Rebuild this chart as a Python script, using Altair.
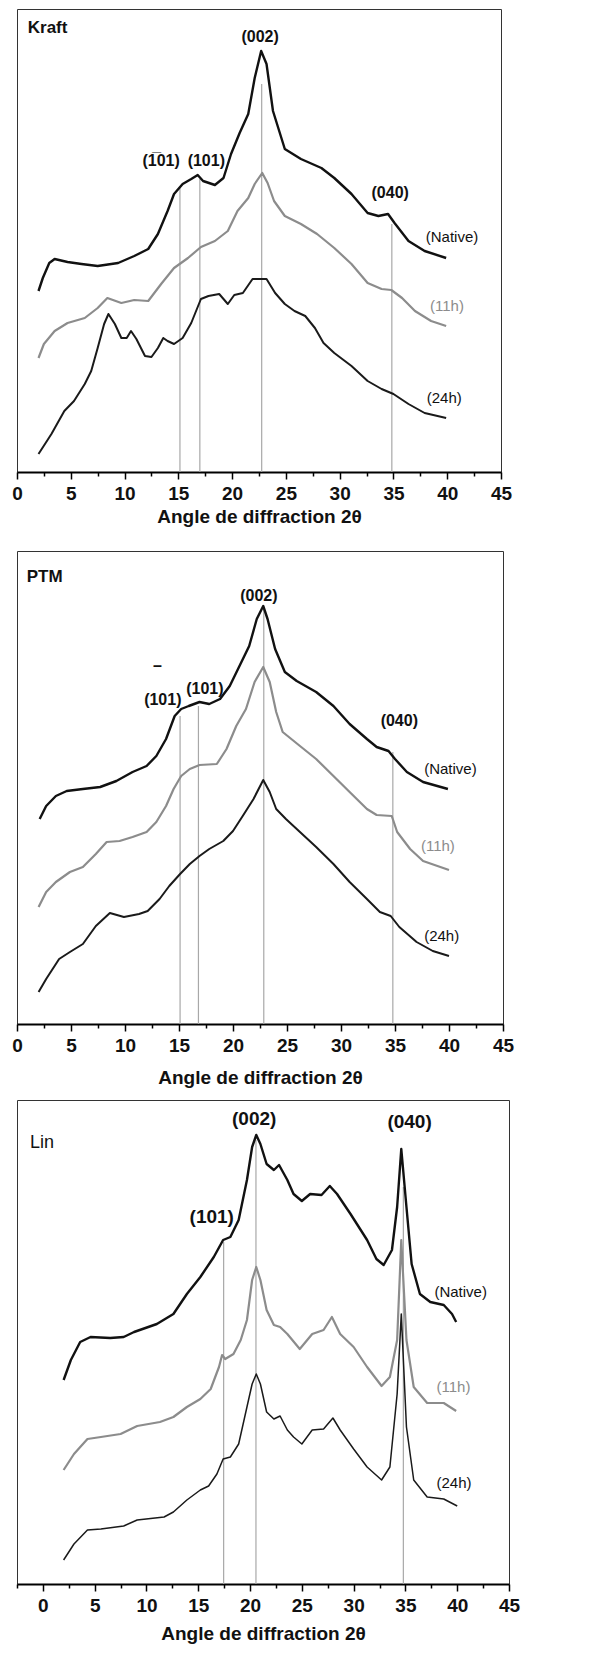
import altair as alt
import pandas as pd

FONT = "Liberation Sans"

# ---------------- Kraft ----------------
kraft_native_x = [2.0, 2.4, 3.0, 3.5, 4.7, 6.0, 7.5, 9.4, 10.9, 12.2, 13.1, 14.0, 14.6, 15.4, 16.2, 16.8, 17.3, 18.4, 19.2, 19.9, 20.7, 21.5, 22.1, 22.7, 23.2, 23.8, 24.9, 26.4, 28.3, 29.5, 31.1, 32.6, 33.6, 34.5, 35.1, 36.4, 37.9, 39.9]
kraft_native_y = [181, 194, 209, 213, 210, 208, 206, 209, 216, 223, 238, 261, 278, 288, 293, 297, 291, 287, 294, 318, 339, 358, 394, 421, 408, 361, 323, 313, 304, 294, 278, 259, 256, 258, 249, 231, 221, 214]
kraft_11h_x = [2.0, 2.5, 3.5, 4.7, 6.3, 7.5, 8.4, 9.7, 10.9, 12.2, 13.4, 14.6, 15.9, 17.1, 18.4, 19.6, 20.5, 21.5, 22.1, 22.8, 23.3, 23.9, 24.9, 26.4, 27.9, 29.5, 31.1, 32.6, 33.9, 34.8, 35.8, 37.0, 38.5, 39.9]
kraft_11h_y = [114, 128, 141, 149, 154, 164, 174, 169, 172, 171, 188, 204, 214, 225, 231, 241, 261, 274, 288, 299, 289, 271, 256, 248, 238, 224, 208, 189, 183, 182, 174, 161, 151, 146]
kraft_24h_x = [2.0, 3.2, 4.4, 5.3, 6.3, 6.9, 7.5, 8.1, 8.5, 9.1, 9.7, 10.2, 10.6, 11.1, 11.9, 12.5, 13.1, 13.6, 14.0, 14.6, 15.4, 16.2, 17.1, 17.8, 18.8, 19.6, 20.2, 21.0, 21.9, 22.6, 23.2, 24.0, 24.9, 25.8, 26.8, 27.7, 28.5, 29.5, 31.1, 32.6, 33.9, 35.0, 36.4, 37.9, 39.9]
kraft_24h_y = [18, 38, 61, 71, 88, 101, 124, 148, 158, 148, 134, 134, 141, 133, 116, 115, 124, 134, 131, 128, 134, 149, 173, 176, 178, 168, 177, 179, 193, 193, 193, 179, 168, 161, 156, 144, 129, 119, 106, 91, 83, 78, 68, 59, 54]
kraft_rule_x = [15.15, 17.0, 22.75, 34.85]
kraft_rule_top = [284, 293, 388, 248]
kraft_hkl_text = ["(1\u030501)", "(101)", "(002)", "(040)"]
kraft_hkl_x = [13.4, 17.6, 22.6, 34.7]
kraft_hkl_y = [311, 311, 435, 279]
kraft_name = ["Kraft"]
kraft_name_x = [1.0]
kraft_name_y = [444]
kraft_series_text = ["(Native)", "(11h)", "(24h)"]
kraft_series_x = [38.0, 38.4, 38.1]
kraft_series_y = [235, 166, 74]

# ---------------- PTM ----------------
ptm_native_x = [2.1, 2.7, 3.6, 4.6, 6.1, 7.7, 9.2, 10.7, 12.0, 12.9, 13.8, 14.6, 15.2, 15.9, 16.9, 17.8, 18.8, 19.7, 20.6, 21.5, 22.2, 22.8, 23.2, 23.9, 24.8, 25.9, 27.7, 29.3, 30.8, 32.4, 33.3, 34.4, 35.0, 36.1, 37.6, 39.9]
ptm_native_y = [205, 218, 228, 233, 235, 237, 243, 252, 258, 268, 285, 308, 315, 318, 322, 320, 325, 338, 358, 378, 405, 418, 405, 375, 352, 343, 332, 318, 300, 285, 277, 273, 265, 252, 242, 235]
ptm_11h_x = [2.0, 2.7, 3.6, 4.9, 6.1, 7.3, 8.3, 9.5, 10.7, 12.0, 12.9, 13.8, 14.5, 15.2, 16.0, 16.9, 18.5, 19.4, 20.3, 21.2, 22.0, 22.8, 23.4, 24.0, 24.6, 26.2, 27.7, 29.3, 30.8, 32.4, 33.3, 34.7, 35.2, 36.4, 37.6, 40.0]
ptm_11h_y = [117, 132, 142, 152, 157, 170, 182, 183, 187, 192, 202, 218, 235, 248, 255, 259, 260, 275, 298, 315, 342, 357, 342, 312, 292, 278, 265, 248, 232, 215, 209, 208, 192, 175, 163, 154]
ptm_24h_x = [2.0, 2.7, 3.9, 4.9, 6.1, 7.3, 8.6, 9.9, 11.3, 12.1, 13.2, 14.1, 15.1, 16.0, 16.9, 17.8, 19.1, 20.0, 20.9, 21.9, 22.8, 23.4, 24.0, 24.9, 26.2, 27.7, 29.3, 30.8, 32.4, 33.6, 34.6, 35.4, 37.0, 38.5, 40.0]
ptm_24h_y = [32, 45, 65, 72, 80, 98, 111, 107, 110, 113, 125, 138, 150, 160, 168, 175, 183, 193, 208, 225, 244, 232, 215, 205, 192, 177, 160, 142, 125, 112, 108, 97, 82, 73, 68]
ptm_rule_x = [15.1, 16.8, 22.85, 34.8]
ptm_rule_top = [308, 318, 417, 272]
ptm_hkl_text = ["(101)", "(101)", "(002)", "(040)", "\u2013"]
ptm_hkl_x = [13.5, 17.4, 22.4, 35.4, 13.0]
ptm_hkl_y = [324, 335, 428, 303, 358]
ptm_name = ["PTM"]
ptm_name_x = [0.9]
ptm_name_y = [447]
ptm_series_text = ["(Native)", "(11h)", "(24h)"]
ptm_series_x = [37.7, 37.4, 37.7]
ptm_series_y = [255, 178, 88]

# ---------------- Lin ----------------
lin_native_x = [2.0, 2.7, 3.6, 4.6, 6.5, 7.8, 8.8, 11.0, 12.6, 13.9, 15.2, 16.5, 17.4, 18.1, 18.9, 19.7, 20.2, 20.6, 21.0, 21.6, 22.3, 22.8, 23.6, 24.2, 25.0, 25.8, 26.9, 27.7, 28.4, 29.7, 31.3, 32.2, 32.9, 33.7, 34.2, 34.6, 35.1, 35.6, 36.4, 37.4, 38.7, 39.5, 39.9]
lin_native_y = [204, 224, 242, 247, 246, 247, 252, 260, 270, 290, 307, 327, 344, 347, 364, 404, 437, 449, 440, 420, 414, 419, 404, 390, 383, 390, 389, 398, 390, 370, 344, 325, 319, 334, 377, 435, 377, 320, 290, 282, 279, 270, 262]
lin_11h_x = [2.0, 3.0, 4.3, 5.6, 7.5, 9.1, 11.3, 12.6, 13.9, 15.2, 16.2, 17.0, 17.3, 17.6, 18.4, 19.1, 19.7, 20.2, 20.6, 21.0, 21.6, 22.3, 22.9, 23.6, 24.8, 26.0, 27.1, 27.9, 28.7, 30.0, 31.3, 32.7, 33.5, 34.2, 34.6, 35.1, 35.8, 37.1, 38.7, 39.9]
lin_11h_y = [114, 130, 145, 147, 150, 158, 162, 167, 177, 185, 195, 217, 229, 225, 230, 244, 264, 304, 317, 304, 274, 259, 257, 250, 235, 250, 254, 267, 250, 237, 217, 198, 207, 244, 344, 244, 197, 181, 181, 173]
lin_24h_x = [2.0, 3.0, 4.3, 5.6, 7.8, 9.1, 11.7, 12.6, 13.9, 15.2, 16.0, 16.8, 17.4, 18.1, 18.9, 19.7, 20.2, 20.6, 21.0, 21.6, 22.3, 22.9, 23.6, 24.2, 25.0, 26.0, 27.1, 28.0, 28.7, 30.0, 31.3, 32.7, 33.5, 34.2, 34.6, 35.1, 35.8, 37.1, 38.7, 40.0]
lin_24h_y = [24, 40, 54, 55, 58, 64, 67, 72, 84, 94, 98, 110, 125, 127, 140, 177, 200, 210, 200, 172, 165, 168, 154, 147, 140, 154, 155, 166, 154, 135, 117, 104, 117, 190, 270, 157, 104, 87, 85, 78]
lin_rule_x = [17.45, 20.57, 34.8]
lin_rule_top = [342, 444, 397]
lin_hkl_text = ["(101)", "(002)", "(040)"]
lin_hkl_x = [16.3, 20.4, 35.4]
lin_hkl_y = [367, 465, 462]
lin_name = ["Lin"]
lin_name_x = [-1.25]
lin_name_y = [441]
lin_series_text = ["(Native)", "(11h)", "(24h)"]
lin_series_x = [37.8, 38.0, 38.0]
lin_series_y = [292, 197, 101]

tick_values_0 = [0, 2.5, 5, 7.5, 10, 12.5, 15, 17.5, 20, 22.5, 25, 27.5, 30, 32.5, 35, 37.5, 40, 42.5, 45]
tick_values_lin = [-2.5] + tick_values_0
XTITLE = "Angle de diffraction 2\u03b8"

BLACK = "#111111"
GRAY = "#8c8c8c"
RULE = "#a8a8a8"


def panel(cfg):
    xs = alt.Scale(domain=cfg["xdom"], nice=False, zero=False)
    ys = alt.Scale(domain=[0, cfg["ymax"]], nice=False, zero=True)
    axis = alt.Axis(
        values=cfg["ticks"],
        labelExpr="datum.value % 5 == 0 ? datum.label : ''",
        tickSize={"condition": {"test": "datum.value % 5 == 0", "value": 7}, "value": 4},
        titlePadding=cfg["tpad"],
        labelOverlap=False,
        labelFlush=False,
        grid=False,
    )
    X = alt.X("x:Q", scale=xs, axis=axis, title=XTITLE)
    Y = alt.Y("y:Q", scale=ys, axis=None)
    Y2 = alt.Y2("y2:Q")

    rules = pd.DataFrame({"x": cfg["rx"], "y": [0] * len(cfg["rx"]), "y2": cfg["rt"]})
    layers = [
        alt.Chart(rules).mark_rule(color=RULE, strokeWidth=1.2).encode(x=X, y=Y, y2=Y2)
    ]
    for xv, yv, col, sw in cfg["lines"]:
        d = pd.DataFrame({"x": xv, "y": yv})
        layers.append(
            alt.Chart(d).mark_line(color=col, strokeWidth=sw, strokeJoin="round").encode(x=X, y=Y)
        )

    def txt(texts, xv, yv, size, weight, color, align):
        d = pd.DataFrame({"x": xv, "y": yv, "t": texts})
        return alt.Chart(d).mark_text(
            font=FONT, fontSize=size, fontWeight=weight, color=color,
            align=align, baseline="middle"
        ).encode(x=X, y=Y, text="t:N")

    layers.append(txt(cfg["hkl"][0], cfg["hkl"][1], cfg["hkl"][2], cfg["hkl_size"], cfg["hkl_weight"], BLACK, "center"))
    layers.append(txt(cfg["name"][0], cfg["name"][1], cfg["name"][2], cfg["name_size"], cfg["name_weight"], BLACK, "left"))
    st, sx, sy = cfg["series"]
    layers.append(txt([st[0], st[2]], [sx[0], sx[2]], [sy[0], sy[2]], cfg["ser_size"], "normal", BLACK, "left"))
    layers.append(txt([st[1]], [sx[1]], [sy[1]], cfg["ser_size"], "normal", GRAY, "left"))
    return alt.layer(*layers).properties(width=cfg["w"], height=cfg["h"])


kraft = panel(dict(
    xdom=[0, 45], ymax=463, ticks=tick_values_0, tpad=4, w=484, h=463,
    rx=kraft_rule_x, rt=kraft_rule_top,
    lines=[(kraft_native_x, kraft_native_y, BLACK, 2.4),
           (kraft_11h_x, kraft_11h_y, GRAY, 2.2),
           (kraft_24h_x, kraft_24h_y, "#1a1a1a", 2.0)],
    hkl=(kraft_hkl_text, kraft_hkl_x, kraft_hkl_y), hkl_size=16, hkl_weight="bold",
    name=(kraft_name, kraft_name_x, kraft_name_y), name_size=17, name_weight="bold",
    series=(kraft_series_text, kraft_series_x, kraft_series_y), ser_size=15,
))

ptm = panel(dict(
    xdom=[0, 45], ymax=473, ticks=tick_values_0, tpad=13, w=486, h=473,
    rx=ptm_rule_x, rt=ptm_rule_top,
    lines=[(ptm_native_x, ptm_native_y, BLACK, 2.4),
           (ptm_11h_x, ptm_11h_y, GRAY, 2.2),
           (ptm_24h_x, ptm_24h_y, "#1a1a1a", 2.0)],
    hkl=(ptm_hkl_text, ptm_hkl_x, ptm_hkl_y), hkl_size=16, hkl_weight="bold",
    name=(ptm_name, ptm_name_x, ptm_name_y), name_size=17, name_weight="bold",
    series=(ptm_series_text, ptm_series_x, ptm_series_y), ser_size=15,
))

lin = panel(dict(
    xdom=[-2.5, 45], ymax=484, ticks=tick_values_lin, tpad=9, w=492, h=484,
    rx=lin_rule_x, rt=lin_rule_top,
    lines=[(lin_native_x, lin_native_y, BLACK, 2.4),
           (lin_11h_x, lin_11h_y, GRAY, 2.2),
           (lin_24h_x, lin_24h_y, "#1a1a1a", 1.5)],
    hkl=(lin_hkl_text, lin_hkl_x, lin_hkl_y), hkl_size=19, hkl_weight="bold",
    name=(lin_name, lin_name_x, lin_name_y), name_size=18, name_weight="normal",
    series=(lin_series_text, lin_series_x, lin_series_y), ser_size=15,
))

top_pair = alt.vconcat(kraft, ptm, spacing=23)
chart = alt.vconcat(top_pair, lin, spacing=11).properties(
    padding={"left": 3, "top": 0, "right": 5, "bottom": 0}
).configure_view(
    stroke="#333333", strokeWidth=1
).configure_axis(
    domainColor="#000000", domainWidth=2, tickColor="#000000", tickWidth=1.5,
    labelFont=FONT, labelFontSize=19, labelFontWeight="bold", labelColor="#111111",
    labelPadding=5, titleFont=FONT, titleFontSize=19, titleFontWeight="bold",
    titleColor="#111111",
)

chart.save("out.html", embed_options={"renderer": "svg", "actions": False})
